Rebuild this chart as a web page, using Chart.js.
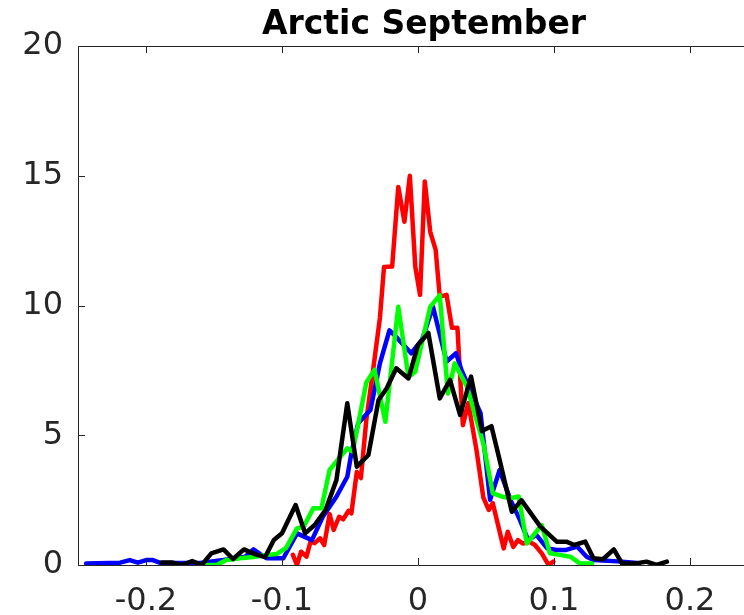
<!DOCTYPE html>
<html>
<head>
<meta charset="utf-8">
<script src="https://cdn.jsdelivr.net/npm/chart.js@4/dist/chart.umd.min.js"></script>
<style>
  html, body { margin: 0; padding: 0; background: #fff; overflow: hidden; }
  #wrap { width: 800px; height: 615px; }
</style>
</head>
<body>
<div id="wrap"><canvas id="histChart" width="800" height="615"></canvas></div>
<script>
// ===== data =====
const chartTitle = "Arctic September";
const xTicks = [-0.2, -0.1, 0, 0.1, 0.2];
const yTicks = [0, 5, 10, 15, 20];

const redX = [-0.092, -0.089, -0.086, -0.082, -0.079, -0.076, -0.072, -0.069, -0.065, -0.062, -0.058, -0.055, -0.051, -0.049, -0.045, -0.042, -0.038, -0.033, -0.028, -0.025, -0.019, -0.0145, -0.010, -0.006, -0.002, 0.0015, 0.005, 0.009, 0.013, 0.016, 0.021, 0.025, 0.029, 0.033, 0.037, 0.043, 0.048, 0.052, 0.055, 0.063, 0.066, 0.070, 0.0735, 0.077, 0.082, 0.086, 0.091, 0.096, 0.0995];
const redY = [0.39, 0, 0.51, 0.32, 0.90, 0.84, 1.03, 0.77, 1.96, 1.35, 1.86, 1.76, 2.09, 1.99, 3.58, 3.35, 5.59, 7.52, 9.52, 11.48, 11.50, 14.57, 13.23, 15.00, 11.50, 10.41, 14.78, 12.84, 12.14, 10.34, 10.41, 9.14, 9.14, 5.39, 6.24, 4.43, 2.61, 2.12, 2.38, 0.64, 1.28, 0.70, 0.96, 0.83, 0.89, 0.77, 0.45, 0, 0.13];

const blueX = [-0.244, -0.219, -0.212, -0.206, -0.200, -0.195, -0.190, -0.160, -0.143, -0.127, -0.121, -0.116, -0.111, -0.104, -0.099, -0.089, -0.078, -0.070, -0.060, -0.052, -0.049, -0.044, -0.035, -0.028, -0.021, -0.016, -0.005, 0.003, 0.011, 0.021, 0.028, 0.032, 0.046, 0.053, 0.060, 0.068, 0.075, 0.081, 0.087, 0.095, 0.102, 0.109, 0.117, 0.124, 0.129, 0.150, 0.161];
const blueY = [0.06, 0.09, 0.19, 0.09, 0.19, 0.19, 0.09, 0.08, 0.19, 0.32, 0.60, 0.42, 0.26, 0.26, 0.26, 1.22, 0.96, 1.86, 2.63, 3.40, 4.30, 5.46, 5.97, 7.77, 9.04, 8.79, 8.16, 8.68, 9.95, 7.84, 8.16, 7.51, 5.85, 2.51, 3.66, 2.51, 1.73, 0.96, 1.16, 0.64, 0.58, 0.58, 0.71, 0.32, 0.19, 0.13, 0.08];

const greenX = [-0.155, -0.148, -0.141, -0.131, -0.121, -0.111, -0.104, -0.097, -0.089, -0.084, -0.077, -0.071, -0.065, -0.052, -0.048, -0.038, -0.032, -0.024, -0.0145, -0.007, -0.002, 0.009, 0.016, 0.022, 0.027, 0.036, 0.048, 0.055, 0.0615, 0.068, 0.074, 0.080, 0.091, 0.097, 0.104, 0.112, 0.119, 0.128];
const greenY = [0, 0, 0.19, 0.26, 0.31, 0.39, 0.42, 0.66, 1.41, 1.48, 2.19, 2.19, 3.66, 4.50, 4.37, 7.03, 7.52, 5.52, 9.95, 7.24, 7.45, 9.95, 10.40, 6.61, 7.77, 6.87, 4.69, 2.76, 2.64, 2.57, 2.64, 0.83, 1.54, 0.45, 0.39, 0.32, 0.06, 0.06];

const blackX = [-0.1885, -0.181, -0.174, -0.166, -0.159, -0.152, -0.143, -0.136, -0.128, -0.120, -0.1125, -0.106, -0.100, -0.090, -0.083, -0.076, -0.068, -0.060, -0.052, -0.045, -0.0365, -0.029, -0.023, -0.016, -0.007, 0, 0.0076, 0.016, 0.0235, 0.031, 0.039, 0.047, 0.054, 0.060, 0.069, 0.076, 0.090, 0.102, 0.109, 0.115, 0.123, 0.129, 0.136, 0.144, 0.150, 0.160, 0.168, 0.1755, 0.183];
const blackY = [0.10, 0.10, 0, 0.15, 0, 0.45, 0.60, 0.23, 0.60, 0.42, 0.30, 0.96, 1.22, 2.31, 1.22, 1.54, 2.12, 3.27, 6.23, 3.79, 4.24, 6.36, 6.81, 7.58, 7.19, 8.48, 8.94, 6.42, 7.13, 5.78, 7.26, 5.16, 5.35, 4.05, 2.05, 2.50, 1.48, 0.90, 0.90, 0.77, 0.90, 0.26, 0.22, 0.60, 0.06, 0.06, 0.13, 0, 0.13];

// ===== helpers =====
function toPoints(xs, ys) {
  return xs.map((x, i) => ({ x: x, y: ys[i] }));
}

function lineSet(xs, ys, color) {
  return {
    data: toPoints(xs, ys),
    borderColor: color,
    borderWidth: 4.5,
    pointRadius: 0,
    fill: false,
    tension: 0,
    borderJoinStyle: "round",
    borderCapStyle: "round",
  };
}

const AXIS_COLOR = "#262626";
const FONT = '"DejaVu Sans", sans-serif';

// box on top + inward ticks (matlab style) + title
const boxPlugin = {
  id: "boxPlugin",
  afterDraw(chart) {
    const ctx = chart.ctx;
    const a = chart.chartArea;
    const xs = chart.scales.x;
    const ys = chart.scales.y;
    const tl = 7;

    ctx.save();
    ctx.strokeStyle = AXIS_COLOR;
    ctx.lineWidth = 1;
    ctx.beginPath();
    ctx.moveTo(a.left, a.top + 0.5);
    ctx.lineTo(a.right, a.top + 0.5);
    ctx.moveTo(a.right - 0.5, a.top);
    ctx.lineTo(a.right - 0.5, a.bottom);

    xTicks.forEach((v) => {
      const px = Math.round(xs.getPixelForValue(v)) + 0.5;
      ctx.moveTo(px, a.bottom);
      ctx.lineTo(px, a.bottom - tl);
      ctx.moveTo(px, a.top);
      ctx.lineTo(px, a.top + tl);
    });
    yTicks.forEach((v) => {
      const py = Math.round(ys.getPixelForValue(v)) + 0.5;
      ctx.moveTo(a.left, py);
      ctx.lineTo(a.left + tl, py);
      ctx.moveTo(a.right, py);
      ctx.lineTo(a.right - tl, py);
    });
    ctx.stroke();

    // title
    ctx.fillStyle = "#000";
    ctx.font = "bold 33px " + FONT;
    ctx.textAlign = "center";
    ctx.textBaseline = "middle";
    ctx.fillText(chartTitle, (a.left + a.right) / 2 + 6, 25);
    ctx.restore();
  },
};

const ctx = document.getElementById("histChart").getContext("2d");

new Chart(ctx, {
  type: "line",
  data: {
    // black drawn on top, red at the bottom
    datasets: [
      lineSet(blackX, blackY, "#000000"),
      lineSet(greenX, greenY, "#00ff00"),
      lineSet(blueX, blueY, "#0000ff"),
      lineSet(redX, redY, "#ff0000"),
    ],
  },
  options: {
    responsive: false,
    animation: false,
    layout: { padding: { top: 46, left: 0, right: 42, bottom: 0 } },
    plugins: {
      legend: { display: false },
      tooltip: { enabled: false },
      title: { display: false },
    },
    scales: {
      x: {
        type: "linear",
        min: -0.25,
        max: 0.25,
        afterBuildTicks(scale) {
          scale.ticks = xTicks.map((v) => ({ value: v }));
        },
        afterFit(scale) {
          scale.height = 50;
        },
        grid: { display: false, drawTicks: false },
        border: { display: true, color: AXIS_COLOR, width: 1 },
        ticks: {
          color: AXIS_COLOR,
          font: { family: FONT, size: 32 },
          padding: 17,
          maxRotation: 0,
          autoSkip: false,
          callback: (v) => String(Math.round(v * 10) / 10),
        },
      },
      y: {
        type: "linear",
        min: 0,
        max: 20,
        afterBuildTicks(scale) {
          scale.ticks = yTicks.map((v) => ({ value: v }));
        },
        afterFit(scale) {
          scale.width = 78;
        },
        grid: { display: false, drawTicks: false },
        border: { display: true, color: AXIS_COLOR, width: 1 },
        ticks: {
          color: AXIS_COLOR,
          font: { family: FONT, size: 32 },
          padding: 15,
        },
      },
    },
  },
  plugins: [boxPlugin],
});
</script>
</body>
</html>
